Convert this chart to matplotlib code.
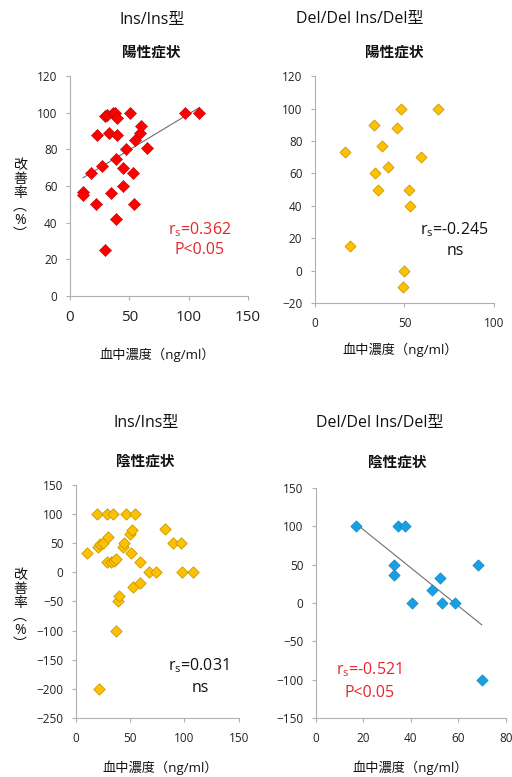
import numpy as np
import matplotlib
matplotlib.use("Agg")
from matplotlib import pyplot as plt

plt.rcParams['font.family'] = ['Open Sans', 'Noto Sans CJK JP', 'DejaVu Sans']
plt.rcParams['mathtext.fontset'] = 'custom'
plt.rcParams['mathtext.rm'] = 'Open Sans'

# top-left: Ins/Ins, positive symptoms
x_pos_ins = [11, 11, 18, 22, 23, 27, 29.5, 31, 29.5, 33, 34.5, 36.5, 38, 38.5, 40, 40, 39,
             44.5, 44.5, 47, 50.5, 53, 54, 55, 59, 60, 64.5, 97, 109]
y_pos_ins = [57, 55, 67, 50, 88, 71, 98, 99, 25, 89, 56, 100, 100, 75, 97, 88, 42,
             70, 60, 80, 100, 67, 50, 85, 89, 93, 81, 100, 100]

# top-right: Del/Del Ins/Del, positive symptoms
x_pos_del = [17, 19.5, 33, 33.3, 35, 37.5, 41, 46, 48.3, 50, 49, 52.5, 53, 59, 68.5]
y_pos_del = [73, 15, 90, 60, 50, 77, 64, 88, 100, 0, -10, 50, 40, 70, 100]

# bottom-left: Ins/Ins, negative symptoms
x_neg_ins = [10.5, 20, 21, 20.5, 22, 25, 29, 29, 30, 32, 34.5, 35, 37, 37, 39, 40,
             43.5, 44.5, 46, 50.5, 49.5, 52, 52.5, 55, 59, 59.5, 67, 73.5, 82.5, 89.5,
             96.5, 98, 108]
y_neg_ins = [34, 100, -200, 43, 48, 50, 100, 17, 60, 17, 100, 19, 23, -100, -50, -40,
             43, 50, 100, 33, 66, 73, -25, 100, 17, -19, 0, 0, 75, 50,
             50, 0, 0]

# bottom-right: Del/Del Ins/Del, negative symptoms
x_neg_del = [17, 32.7, 32.7, 34.7, 37.5, 40.3, 48.7, 52.2, 53, 58.7, 68.4, 69.8]
y_neg_del = [100, 50, 37, 100, 100, 0, 17, 33, 0, 0, 50, -100]

RED = '#FF0000'
YEL = '#FFC000'
BLU = '#1A9FE0'
TXT_RED = '#E8262A'
AXC = '#B0B0B0'


def style(ax, xlim, xt, ylim, yt, xfs=8.5, yfs=8.5):
    ax.set_xlim(*xlim)
    ax.set_ylim(*ylim)
    ax.set_xticks(xt)
    ax.set_yticks(yt)
    for s in ['top', 'right']:
        ax.spines[s].set_visible(False)
    for s in ['left', 'bottom']:
        ax.spines[s].set_color(AXC)
        ax.spines[s].set_linewidth(0.8)
    ax.tick_params(colors=AXC, labelcolor='#222222', length=3, width=0.8)
    ax.tick_params(axis='x', labelsize=xfs, pad=7)
    ax.tick_params(axis='y', labelsize=yfs, pad=6)
    ax.set_facecolor('none')


def trend(ax, x, y):
    k, b = np.polyfit(x, y, 1)
    xs = np.array([min(x), max(x)])
    ax.plot(xs, k * xs + b, color='#707070', lw=0.8, zorder=3)


fig = plt.figure(figsize=(5.12, 7.77), dpi=100)

ax1 = fig.add_axes([0.1367, 0.619, 0.3477, 0.283])
ax2 = fig.add_axes([0.615, 0.610, 0.350, 0.292])
ax3 = fig.add_axes([0.148, 0.0759, 0.318, 0.300])
ax4 = fig.add_axes([0.617, 0.0759, 0.371, 0.296])

style(ax1, (0, 150), [0, 50, 100, 150], (0, 120), range(0, 121, 20), xfs=11, yfs=8.5)
ax1.scatter(x_pos_ins, y_pos_ins, marker='D', s=38, color=RED, edgecolors='#C00000', linewidths=0.4, zorder=4)
trend(ax1, x_pos_ins, y_pos_ins)
ax1.text(109, 36, r'r$_{\mathrm{s}}$=0.362', color=TXT_RED, fontsize=11.5, ha='center', va='center')
ax1.text(109, 25, 'P<0.05', color=TXT_RED, fontsize=11.5, ha='center', va='center')

style(ax2, (0, 100), [0, 50, 100], (-20, 120), range(-20, 121, 20))
ax2.scatter(x_pos_del, y_pos_del, marker='D', s=32, color=YEL, edgecolors='#BF9000', linewidths=0.5, zorder=4)
ax2.text(78, 25, r'r$_{\mathrm{s}}$=-0.245', color='#111111', fontsize=11.5, ha='center', va='center')
ax2.text(78.5, 12, 'ns', color='#111111', fontsize=11.5, ha='center', va='center')

style(ax3, (0, 150), [0, 50, 100, 150], (-250, 150), range(-250, 151, 50))
ax3.scatter(x_neg_ins, y_neg_ins, marker='D', s=34, color=YEL, edgecolors='#BF9000', linewidths=0.5, zorder=4)
ax3.text(113, -160, r'r$_{\mathrm{s}}$=0.031', color='#111111', fontsize=11.5, ha='center', va='center')
ax3.text(115, -198, 'ns', color='#111111', fontsize=11.5, ha='center', va='center')

style(ax4, (0, 80), [0, 20, 40, 60, 80], (-150, 150), range(-150, 151, 50))
ax4.scatter(x_neg_del, y_neg_del, marker='D', s=34, color=BLU, edgecolors='#1080C0', linewidths=0.4, zorder=4)
trend(ax4, x_neg_del, y_neg_del)
ax4.text(22.5, -87, r'r$_{\mathrm{s}}$=-0.521', color=TXT_RED, fontsize=11.5, ha='center', va='center')
ax4.text(22.5, -117, 'P<0.05', color=TXT_RED, fontsize=11.5, ha='center', va='center')

# titles, subtitles, axis labels (figure coords)
H = 777.0
W = 512.0
def ftext(x, y, s, **kw):
    fig.text(x / W, 1 - y / H, s, ha='center', va='center', color='#111111', **kw)

ftext(152, 20, 'Ins/Ins型', fontsize=11.5)
ftext(151, 53, '陽性症状', fontsize=10.5, fontweight='bold')
ftext(360, 19, 'Del/Del Ins/Del型', fontsize=11.5)
ftext(394, 53, '陽性症状', fontsize=10.5, fontweight='bold')
ftext(146, 423, 'Ins/Ins型', fontsize=11.5)
ftext(145, 462, '陰性症状', fontsize=10.5, fontweight='bold')
ftext(380, 423, 'Del/Del Ins/Del型', fontsize=11.5)
ftext(397, 463, '陰性症状', fontsize=10.5, fontweight='bold')

ftext(157, 355, '血中濃度（ng/ml）', fontsize=9.5)
ftext(400, 350, '血中濃度（ng/ml）', fontsize=9.5)
ftext(160, 768, '血中濃度（ng/ml）', fontsize=9.5)
ftext(410, 768, '血中濃度（ng/ml）', fontsize=9.5)

ylab = '改\n善\n率\n︵\n%\n︶'
ftext(20, 200, ylab, fontsize=10, linespacing=0.9)
ftext(20, 610, ylab, fontsize=10, linespacing=0.9)

fig.savefig('out.png', dpi=100)
